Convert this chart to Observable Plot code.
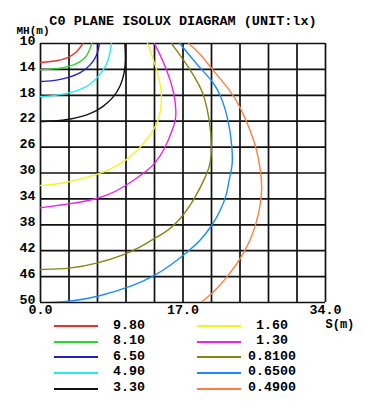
<!DOCTYPE html>
<html>
<head>
<meta charset="utf-8">
<script src="https://cdn.jsdelivr.net/npm/d3@7"></script>
<script src="https://cdn.jsdelivr.net/npm/@observablehq/plot@0.6"></script>
<style>
  html, body { margin: 0; padding: 0; background: #fff; }
  body { position: relative; width: 366px; height: 406px; overflow: hidden;
         font-family: "Liberation Mono", "DejaVu Sans Mono", monospace; font-weight: bold; }
  #title { position: absolute; top: 0; left: 0; width: 366px; height: 28px; line-height: 43px;
           text-align: center; font-size: 13.5px; color: #000; white-space: pre; }
  #chart { position: absolute; top: 28px; left: 0; }
  #legend { position: absolute; top: 318px; left: 0; width: 366px; height: 88px; }
  .sw { position: absolute; height: 2px; width: 44px; }
  .lb { position: absolute; width: 80px; text-align: center; font-size: 13.3px; line-height: 16px; color: #000; }
</style>
</head>
<body>
<div id="title">C0 PLANE ISOLUX DIAGRAM (UNIT:lx)</div>
<div id="chart"></div>
<div id="legend"></div>
<script>
// ---- data ----
const levels = ["9.80", "8.10", "6.50", "4.90", "3.30", "1.60", "1.30", "0.8100", "0.6500", "0.4900"];
const colors = ["#e8352c", "#2ad82a", "#2222c0", "#22eeee", "#111111", "#f4f422", "#ee22ee", "#858510", "#1a8cff", "#ff7f40"];

const xGrid = [0, 3.4, 6.8, 10.2, 13.6, 17, 20.4, 23.8, 27.2, 30.6, 34];
const yGrid = [10, 14, 18, 22, 26, 30, 34, 38, 42, 46, 50];
const xTickValues = [0, 17, 34];
const xTickLabels = ["0.0", "17.0", "34.0"];
const yTickLabels = ["10", "14", "18", "22", "26", "30", "34", "38", "42", "46", "50"];

// contour points [S (m), MH (m)]
const c980 = [[5.05,10],[4.38,11.34],[3.46,12.12],[1.99,12.73],[0,12.93]];
const c810 = [[6.12,10],[5.64,11.85],[4.77,12.89],[3.46,13.55],[1.99,13.91],[0,14.06]];
const c650 = [[7.04,10],[6.76,11.85],[5.96,13.40],[4.77,14.59],[3.46,15.20],[1.99,15.71],[0,15.87]];
const c490 = [[8.47,10],[8.15,12.63],[7.36,14.48],[5.96,16.49],[3.97,17.52],[1.99,18.03],[0,18.19]];
const c330 = [[10.06,10],[10.17,12.5],[10.02,14.6],[9.55,16.6],[8.71,18.34],[7.52,19.73],[6.0,20.95],[3.46,21.75],[1.59,22.0],[0,22.05]];
const c160 = [[12.77,10],[13.90,14.02],[14.61,17.88],[14.20,21.89],[13.36,23.59],[12.32,25.49],[11.13,27.04],[9.94,28.33],[7.96,29.61],[6.76,30.23],[3.46,31.42],[1.59,31.78],[0,31.93]];
const c130 = [[13.60,10],[15.12,14.02],[16.02,17.92],[16.19,20.66],[16.11,21.89],[15.71,23.44],[14.91,26.02],[13.72,28.58],[12.32,30.03],[9.94,32.19],[7.96,33.47],[5.96,34.25],[3.46,34.76],[0,35.37]];
const c081 = [[15.63,10],[17.89,14.02],[19.09,16.80],[19.51,18.03],[20.22,21.89],[20.46,26.02],[20.28,28.84],[19.48,31.16],[18.88,32.70],[17.89,35.02],[16.70,37.07],[15.31,38.88],[13.52,40.16],[11.69,41.58],[10.38,42.43],[6.76,44.02],[3.46,44.80],[0,44.90]];
const c065 = [[16.62,10],[19.09,13.91],[20.48,15.71],[21.56,18.03],[22.46,21.89],[22.87,26.02],[22.94,28.84],[22.46,31.16],[22.27,33.21],[21.47,35.79],[20.48,38.11],[19.09,40.42],[17.50,42.23],[15.51,44.29],[13.33,46.09],[11.13,47.37],[6.76,49.18],[3.46,49.85],[1.19,50]];
const c049 = [[17.69,10],[19.09,11.59],[20.48,14.02],[22.67,17.26],[23.86,19.84],[25.05,23.44],[25.85,26.53],[26.25,29.61],[26.45,32.19],[26.25,34.76],[25.85,37.34],[25.05,40.42],[23.86,43.25],[22.27,46.09],[20.67,48.41],[19.15,50]];

const contours = [c980, c810, c650, c490, c330, c160, c130, c081, c065, c049];
const rows = contours.flatMap((pts, i) => pts.map(([x, y]) => ({level: levels[i], x, y})));

// ---- chart ----
const font = '"Liberation Mono", "DejaVu Sans Mono", monospace';
const chart = Plot.plot({
  width: 366,
  height: 300,
  marginTop: 15,
  marginLeft: 40,
  marginRight: 41,
  marginBottom: 26,
  style: {fontFamily: font, fontWeight: "bold", fontSize: "13.3px", background: "white", color: "#000", overflow: "visible"},
  x: {domain: [0, 34], axis: null},
  y: {domain: [10, 50], reverse: true, axis: null},
  color: {domain: levels, range: colors},
  marks: [
    Plot.ruleX(xGrid, {stroke: "#111", strokeWidth: 1.7}),
    Plot.ruleY(yGrid, {stroke: "#111", strokeWidth: 1.7}),
    Plot.line(rows, {x: "x", y: "y", z: "level", stroke: "level", strokeWidth: 1.4, curve: "basis", clip: true}),
    Plot.text(yGrid, {y: d => d, text: (d, i) => yTickLabels[i], frameAnchor: "left", textAnchor: "end", dx: -5, dy: -3, fill: "#000"}),
    Plot.text(xTickValues, {x: d => d, text: (d, i) => xTickLabels[i], frameAnchor: "bottom", lineAnchor: "top", dy: 2, fill: "#000"}),
    Plot.text(["MH(m)"], {text: d => d, frameAnchor: "top-left", textAnchor: "middle", lineAnchor: "middle", dx: -7.5, dy: -13, fontSize: 11, fill: "#000"}),
    Plot.text(["S(m)"], {text: d => d, frameAnchor: "bottom-right", textAnchor: "start", lineAnchor: "middle", dx: 0, dy: 22, fontSize: 12, fill: "#000"})
  ]
});
document.getElementById("chart").appendChild(chart);

// ---- legend ----
const legend = document.getElementById("legend");
levels.forEach((lv, i) => {
  const col = i < 5 ? 0 : 1;
  const row = i % 5;
  const cy = 8 + row * 15.65;
  const sw = document.createElement("div");
  sw.className = "sw";
  sw.style.background = colors[i];
  sw.style.left = (col ? 197 : 54) + "px";
  sw.style.top = (cy - 1) + "px";
  legend.appendChild(sw);
  const lb = document.createElement("div");
  lb.className = "lb";
  lb.textContent = lv;
  lb.style.left = ((col ? 272 : 129) - 40) + "px";
  lb.style.top = (cy - 8.5) + "px";
  legend.appendChild(lb);
});
</script>
</body>
</html>
